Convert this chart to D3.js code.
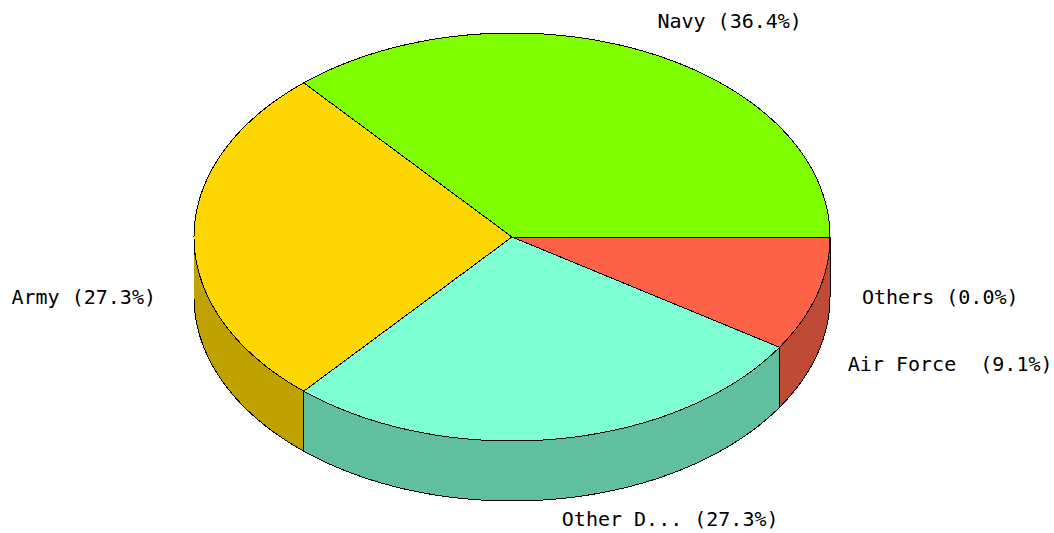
<!DOCTYPE html>
<html lang="en">
<head>
<meta charset="utf-8">
<title>3D Pie</title>
<script src="https://d3js.org/d3.v7.min.js"></script>
<style>
  body { margin: 0; background: #fff; }
  text { font-family: "DejaVu Sans Mono", monospace; font-size: 20px; fill: #000; white-space: pre; }
</style>
</head>
<body>
<svg id="chart" width="1054" height="533"></svg>
<script>
// data
var categories = ["Navy", "Army", "Other D...", "Air Force ", "Others"];
var values = [4, 3, 3, 1, 0];
var colors = ["#7fff00", "#ffd700", "#7fffd4", "#ff6347", "#4169e1"];

var svg = d3.select("#chart"),
    width = +svg.attr("width"),
    height = +svg.attr("height");

var cx = 512, cy = 237,   // centre of top face
    rx = 318, ry = 204,   // radii of top face
    depth = 60,
    labelRx = rx + 32, labelRy = ry + 34;

var total = d3.sum(values);
var fmt = d3.format(".1f");

// angles are counter-clockwise from 3 o'clock
var pie = d3.pie().sort(null).startAngle(0).endAngle(2 * Math.PI);
var arcs = pie(values).map(function (d, i) {
  return { i: i, t0: d.startAngle, t1: d.endAngle, value: d.value };
});

var line = d3.line();

function px(t) { return cx + rx * Math.cos(t); }
function py(t, off) { return cy - ry * Math.sin(t) + (off || 0); }

function arcPoints(t0, t1, off) {
  var n = Math.max(2, Math.ceil(Math.abs(t1 - t0) / 0.01));
  return d3.range(n + 1).map(function (k) {
    var t = t0 + (t1 - t0) * k / n;
    return [px(t), py(t, off)];
  });
}

function shade(c) {
  var r = d3.rgb(c);
  return d3.rgb(r.r * 0.75, r.g * 0.75, r.b * 0.75).formatHex();
}

// side walls - only the front half (angles pi..2pi) is visible
var sides = svg.append("g");
arcs.forEach(function (a) {
  var s = Math.max(a.t0, Math.PI), e = Math.min(a.t1, 2 * Math.PI);
  if (e - s <= 0) return;
  var pts = arcPoints(s, e, 0).concat(arcPoints(e, s, depth));
  sides.append("path")
    .attr("d", line(pts) + "Z")
    .attr("fill", shade(colors[a.i]))
    .attr("stroke", "#000")
    .attr("stroke-width", 1)
    .attr("shape-rendering", "crispEdges");
});

// top faces
var tops = svg.append("g");
arcs.forEach(function (a) {
  if (a.t1 - a.t0 <= 0) return;
  var pts = [[cx, cy]].concat(arcPoints(a.t0, a.t1, 0));
  tops.append("path")
    .attr("d", line(pts) + "Z")
    .attr("fill", colors[a.i])
    .attr("stroke", "#000")
    .attr("stroke-width", 1)
    .attr("shape-rendering", "crispEdges");
});

// labels
var labels = svg.append("g");
arcs.forEach(function (a) {
  var mid = (a.t0 + a.t1) / 2;
  var c = Math.cos(mid), s = Math.sin(mid);
  var lower = s < 1e-9;
  var x = cx + labelRx * c;
  var y = cy - labelRy * s + (lower ? depth : 0);
  y = Math.max(20, Math.min(height - 14, y));
  labels.append("text")
    .attr("x", c >= 0 ? x : x - 6)
    .attr("y", y)
    .attr("dy", "0.35em")
    .attr("text-anchor", c >= 0 ? "start" : "end")
    .text(categories[a.i] + " (" + fmt(a.value / total * 100) + "%)");
});
</script>
</body>
</html>
